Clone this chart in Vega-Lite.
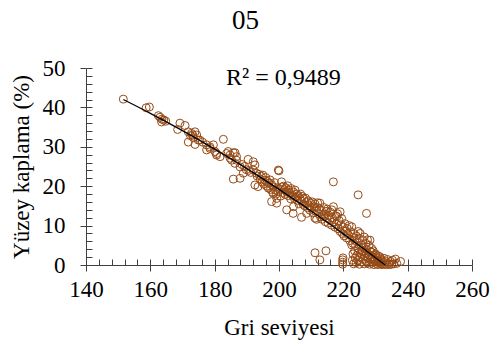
{
"$schema":"https://vega.github.io/schema/vega-lite/v6.json",
"width":386,"height":197,
"autosize":{"type":"none"},
"padding":{"left":86,"top":68,"right":19,"bottom":82},
"background":"white",
"title":{"text":"05","font":"Liberation Serif","fontSize":27,"fontWeight":"normal","color":"black","anchor":"middle","frame":"group","dx":-33.5,"offset":22},
"config":{"view":{"stroke":null},"font":"Liberation Serif","axis":{"labelFont":"Liberation Serif","titleFont":"Liberation Serif"}},
"datasets":{
"pts":[
{"x":151.6,"y":42.1},{"x":158.7,"y":39.9},{"x":159.7,"y":40.1},{"x":163,"y":37.5},{"x":163.6,"y":37.0},{"x":164.2,"y":36.8},{"x":163.5,"y":36.3},{"x":164.8,"y":36.5},{"x":162.5,"y":37.9},{"x":169.2,"y":36.0},{"x":170.8,"y":35.4},{"x":168.5,"y":34.4},{"x":171.8,"y":33.8},{"x":171.8,"y":31.2},{"x":172.8,"y":33.4},{"x":173.4,"y":32.3},{"x":173.9,"y":33.8},{"x":174.4,"y":33.0},{"x":174.9,"y":31.7},{"x":173.9,"y":30.6},{"x":172.5,"y":32.8},{"x":173.2,"y":33.0},
{"x":175.4,"y":31.7},{"x":176.2,"y":31.2},{"x":177.5,"y":30.5},{"x":177.5,"y":29.2},{"x":178.5,"y":30.0},{"x":178.5,"y":29.6},{"x":179.6,"y":30.5},{"x":180.1,"y":28.8},{"x":180.6,"y":28.3},{"x":180.6,"y":27.9},{"x":181.7,"y":27.5},{"x":182.7,"y":31.9},{"x":183.7,"y":28.3},{"x":184.2,"y":28.8},{"x":184.8,"y":27.9},{"x":184.8,"y":27.1},{"x":185.3,"y":26.6},{"x":185.8,"y":28.5},{"x":186.3,"y":25.8},{"x":186.3,"y":28.5},{"x":186.8,"y":27.5},{"x":186.8,"y":26.6},{"x":187.9,"y":24.9},{"x":185.8,"y":21.8},{"x":187.9,"y":22.0},{"x":188.9,"y":23.3},{"x":188.5,"y":25.5},{"x":189.3,"y":25.0},{"x":189.8,"y":24.2},{"x":190.4,"y":26.8},{"x":190.6,"y":24.0},{"x":191.2,"y":23.5},
{"x":192.0,"y":26.2},{"x":192.5,"y":25.4},{"x":192.0,"y":24.1},{"x":193.0,"y":23.3},{"x":192.5,"y":20.3},{"x":193.5,"y":19.9},{"x":193.2,"y":22.6},{"x":193.8,"y":23.0},{"x":194.2,"y":21.8},{"x":194.5,"y":22.5},{"x":194.8,"y":21.0},{"x":195.0,"y":22.8},{"x":195.3,"y":20.5},{"x":195.6,"y":21.5},{"x":195.9,"y":22.2},{"x":196.2,"y":20.0},{"x":196.4,"y":21.2},{"x":196.7,"y":19.5},{"x":196.9,"y":20.8},{"x":197.2,"y":21.6},{"x":197.4,"y":19.2},{"x":197.7,"y":20.4},{"x":197.7,"y":16.1},{"x":198.0,"y":18.5},{"x":198.2,"y":18.2},{"x":198.3,"y":19.8},{"x":198.6,"y":20.9},{"x":198.9,"y":19.0},{"x":199.1,"y":18.0},{"x":199.3,"y":16.9},{"x":199.3,"y":15.7},{"x":199.5,"y":19.6},{"x":199.8,"y":24.1},{"x":199.8,"y":18.6},{"x":200.0,"y":23.9},{"x":200.2,"y":19.2},{"x":200.5,"y":17.5},{"x":200.8,"y":21.1},
{"x":200.9,"y":19.8},{"x":201.2,"y":18.4},{"x":201.4,"y":20.0},{"x":201.7,"y":19.1},{"x":201.9,"y":17.9},{"x":202.1,"y":19.6},{"x":202.4,"y":14.0},{"x":202.4,"y":18.6},{"x":202.7,"y":20.1},{"x":202.9,"y":17.6},{"x":203.1,"y":19.0},{"x":203.4,"y":18.2},{"x":203.6,"y":16.8},{"x":203.8,"y":19.4},{"x":204.1,"y":17.7},{"x":204.4,"y":13.1},{"x":204.5,"y":14.8},{"x":204.5,"y":18.5},{"x":204.8,"y":16.9},{"x":205.0,"y":19.0},{"x":205.2,"y":17.2},{"x":205.5,"y":18.0},{"x":205.7,"y":16.4},{"x":206.0,"y":17.6},{"x":206.2,"y":15.5},{"x":206.5,"y":16.9},{"x":206.7,"y":18.0},{"x":207.0,"y":12.1},{"x":207.0,"y":16.2},{"x":207.2,"y":17.4},{"x":207.5,"y":15.4},{"x":207.7,"y":16.8},{"x":208.0,"y":15.0},{"x":208.2,"y":17.0},{"x":208.6,"y":13.1},{"x":208.6,"y":15.9},{"x":208.9,"y":14.5},{"x":209.1,"y":16.3},{"x":209.4,"y":15.0},{"x":209.6,"y":13.9},{"x":209.9,"y":15.7},{"x":210.1,"y":14.4},{"x":210.4,"y":16.0},{"x":210.6,"y":13.2},{"x":210.9,"y":14.8},{"x":211.2,"y":11.9},{"x":211.2,"y":15.5},{"x":211.5,"y":13.6},{"x":211.7,"y":11.6},{"x":211.8,"y":14.6},{"x":212.0,"y":15.8},
{"x":212.3,"y":13.0},{"x":212.5,"y":14.3},{"x":212.7,"y":15.7},{"x":212.9,"y":12.2},{"x":213.2,"y":13.8},{"x":213.4,"y":11.6},{"x":213.8,"y":12.3},{"x":213.9,"y":14.6},{"x":214.1,"y":12.9},{"x":214.4,"y":11.0},{"x":214.6,"y":13.6},{"x":214.8,"y":12.0},{"x":215.0,"y":14.2},{"x":215.3,"y":10.6},{"x":215.5,"y":12.6},{"x":215.8,"y":11.5},{"x":216.0,"y":13.4},{"x":216.4,"y":14.0},{"x":216.4,"y":10.1},{"x":216.6,"y":12.0},{"x":216.9,"y":14.8},{"x":216.9,"y":21.1},{"x":217.1,"y":11.0},{"x":217.4,"y":9.6},{"x":217.6,"y":12.5},{"x":217.9,"y":10.4},{"x":218.0,"y":12.3},{"x":218.2,"y":13.0},{"x":218.4,"y":9.2},{"x":218.7,"y":11.3},{"x":219.0,"y":13.5},{"x":219.0,"y":8.5},{"x":219.2,"y":10.2},{"x":219.5,"y":11.8},{"x":219.7,"y":8.0},{"x":220.0,"y":9.6},{"x":220.2,"y":7.4},{"x":220.5,"y":10.5},{"x":220.7,"y":8.6},{"x":221.0,"y":6.9},{"x":221.2,"y":9.3},{"x":221.5,"y":7.7},{"x":221.8,"y":10.0},{"x":222.0,"y":6.2},{"x":222.3,"y":8.4},
{"x":222.6,"y":9.7},{"x":222.8,"y":7.0},{"x":223.0,"y":5.5},{"x":223.3,"y":8.0},{"x":223.5,"y":6.3},{"x":223.8,"y":4.9},{"x":224.0,"y":7.4},{"x":224.3,"y":5.8},{"x":224.6,"y":17.8},{"x":224.6,"y":8.5},{"x":224.8,"y":4.2},{"x":225.0,"y":6.7},{"x":225.2,"y":8.0},{"x":225.5,"y":5.1},{"x":225.7,"y":3.6},{"x":226.0,"y":6.2},{"x":226.2,"y":4.5},{"x":226.5,"y":7.1},{"x":226.8,"y":3.2},{"x":227.0,"y":5.5},{"x":227.2,"y":13.1},{"x":227.3,"y":4.0},{"x":227.5,"y":6.4},{"x":227.8,"y":2.6},{"x":228.0,"y":5.0},{"x":228.3,"y":6.3},{"x":228.3,"y":3.4},{"x":228.8,"y":4.2},{"x":229.0,"y":2.1},{"x":229.3,"y":3.6},{"x":229.6,"y":1.5},{"x":230.0,"y":2.8},{"x":230.4,"y":1.0},{"x":230.8,"y":2.3},{"x":231.2,"y":0.6},{"x":231.6,"y":1.6},{"x":232.0,"y":0.3},
{"x":219.8,"y":0.2},{"x":219.8,"y":0.7},{"x":219.8,"y":1.3},{"x":219.9,"y":1.8},{"x":211.2,"y":3.1},{"x":214.6,"y":3.6},{"x":212.7,"y":1.3},
{"x":222.8,"y":1.2},{"x":223.0,"y":2.8},{"x":223.2,"y":0.3},{"x":223.5,"y":3.6},{"x":223.7,"y":1.8},{"x":224.0,"y":0.6},{"x":224.2,"y":2.4},{"x":224.5,"y":1.1},{"x":224.7,"y":3.2},{"x":225.0,"y":0.2},{"x":225.2,"y":1.9},{"x":225.5,"y":2.9},{"x":225.7,"y":0.8},{"x":226.0,"y":3.5},{"x":226.2,"y":1.4},{"x":226.5,"y":0.3},{"x":226.7,"y":2.3},{"x":227.0,"y":1.0},{"x":227.2,"y":3.0},{"x":227.5,"y":0.5},{"x":227.7,"y":1.8},{"x":228.0,"y":2.6},{"x":228.2,"y":0.2},{"x":228.5,"y":1.3},{"x":228.7,"y":3.3},{"x":229.0,"y":0.7},{"x":229.2,"y":2.0},{"x":229.5,"y":0.1},{"x":229.7,"y":1.2},{"x":230.0,"y":2.5},{"x":230.2,"y":0.4},{"x":230.5,"y":1.7},{"x":230.7,"y":0.1},{"x":231.0,"y":1.0},{"x":231.3,"y":2.1},{"x":231.5,"y":0.3},{"x":231.8,"y":1.2},{"x":232.0,"y":0.1},{"x":232.3,"y":0.8},{"x":232.6,"y":1.7},{"x":232.8,"y":0.2},{"x":233.1,"y":0.9},{"x":233.4,"y":0.1},{"x":233.7,"y":1.4},{"x":234.0,"y":0.4},{"x":234.3,"y":0.1},{"x":234.6,"y":0.9},{"x":235.0,"y":0.2},{"x":235.3,"y":1.2},{"x":235.7,"y":0.3},{"x":236.2,"y":1.5},{"x":236.6,"y":0.4},{"x":237.8,"y":0.9},{"x":222.6,"y":5.1}
],
"trend":[
{"x":151.6,"y":42.0},{"x":160,"y":38.5},{"x":170,"y":34.1},{"x":180,"y":29.4},{"x":190,"y":24.46},{"x":200,"y":19.2},{"x":210,"y":13.7},{"x":220,"y":7.9},{"x":226,"y":4.3},{"x":233,"y":0}
],
"lbl":[{"x":183.5,"y":45.7,"t":"R² = 0,9489"}]
},
"layer":[
{"data":{"name":"pts"},
 "mark":{"type":"point","shape":"circle","filled":false,"color":"#964B16","strokeWidth":1,"size":64,"opacity":1},
 "encoding":{
  "x":{"field":"x","type":"quantitative","scale":{"domain":[140,260],"nice":false,"zero":false},
   "axis":{"orient":"bottom","values":[140,160,180,200,220,240,260],"title":"Gri seviyesi","grid":false,"tickSize":6,"tickWidth":1,"domainColor":"#404040","tickColor":"#404040","labelFont":"Liberation Serif","labelFontSize":23,"labelColor":"black","labelPadding":7,"labelFlush":false,"labelOverlap":false,"titleFont":"Liberation Serif","titleFontSize":23,"titleFontWeight":"normal","titleColor":"black","titlePadding":15}},
  "y":{"field":"y","type":"quantitative","scale":{"domain":[0,50],"nice":false},
   "axis":{"orient":"left","values":[0,10,20,30,40,50],"title":"Yüzey kaplama (%)","grid":false,"tickSize":6,"tickWidth":1,"domainColor":"#404040","tickColor":"#404040","labelFont":"Liberation Serif","labelFontSize":23,"labelColor":"black","labelPadding":15,"labelFlush":false,"labelOverlap":false,"titleFont":"Liberation Serif","titleFontSize":23,"titleFontWeight":"normal","titleColor":"black","titlePadding":9}}
 }},
{"data":{"name":"trend"},
 "mark":{"type":"line","color":"black","strokeWidth":1.3,"interpolate":"monotone"},
 "encoding":{
  "x":{"field":"x","type":"quantitative","axis":{"orient":"bottom","values":[140,144,148,152,156,160,164,168,172,176,180,184,188,192,196,200,204,208,212,216,220,224,228,232,236,240,244,248,252,256,260],"labels":false,"domain":false,"title":null,"grid":false,"tickSize":-6,"tickWidth":1,"tickColor":"#404040"}},
  "y":{"field":"y","type":"quantitative","axis":{"orient":"left","values":[0,2,4,6,8,10,12,14,16,18,20,22,24,26,28,30,32,34,36,38,40,42,44,46,48,50],"labels":false,"domain":false,"title":null,"grid":false,"tickSize":-6,"tickWidth":1,"tickColor":"#404040"}}
 }},
{"data":{"name":"lbl"},
 "mark":{"type":"text","align":"left","baseline":"alphabetic","fontSize":24,"font":"Liberation Serif","color":"black"},
 "encoding":{
  "x":{"field":"x","type":"quantitative","axis":null},
  "y":{"field":"y","type":"quantitative","axis":null},
  "text":{"field":"t"}
 }}
],
"resolve":{"axis":{"x":"independent","y":"independent"}}
}
